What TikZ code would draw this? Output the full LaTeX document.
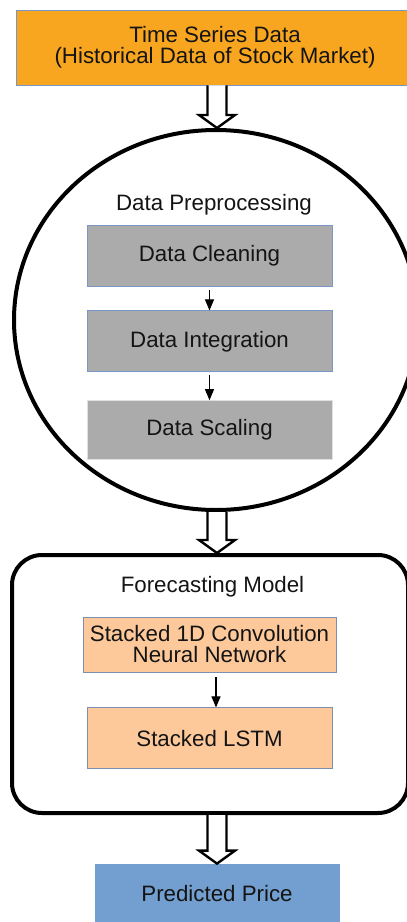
\documentclass[tikz,border=0pt]{standalone}
\usepackage{fontspec}
\setmainfont{Liberation Sans}
\usetikzlibrary{arrows.meta}
\usetikzlibrary{positioning, shapes.geometric, calc}

\definecolor{srcorange}{RGB}{248,166,32}
\definecolor{stepgray}{RGB}{171,171,171}
\definecolor{modelpeach}{RGB}{253,201,155}
\definecolor{outblue}{RGB}{114,159,207}
\definecolor{edgeblue}{RGB}{120,150,200}

% big open arrow between the stages, drawn on the vertical through (axis)
\newcommand{\stagearrow}[2]{%
  \draw[stagearr] let \p1=(#1 -| axis), \p2=(#2 -| axis) in
    (\x1-9.5pt,\y1) -- (\x1-9.5pt,\y2+13pt) -- (\x1-18pt,\y2+13pt) -- (\x2,\y2)
    -- (\x1+18pt,\y2+13pt) -- (\x1+9.5pt,\y2+13pt) -- (\x1+9.5pt,\y1);}

\begin{document}
\begin{tikzpicture}[
  x=1pt, y=1pt, semithick,
  every node/.style={font=\fontsize{22.3}{21}\selectfont, text=black!92},
  box/.style={rectangle, draw=edgeblue, line width=0.8pt, align=center,
    minimum width=245pt, minimum height=61pt, inner sep=2pt},
  stage/.style={draw=black, line width=4pt, inner sep=0pt},
  title/.style={inner sep=0pt, anchor=base},
  flow/.style={-{Triangle[length=11pt,width=9pt]}, line width=1.1pt},
  stagearr/.style={line width=2.4pt, fill=white, line join=miter}
]
\useasboundingbox (0,0) rectangle (407,-922);
\coordinate (axis) at (217,0);

% --- Input ---
\node[box, fill=srcorange, minimum width=398pt, minimum height=75pt] (src) at (215,-47.5)
  {Time Series Data\\(Historical Data of Stock Market)};

% --- Preprocessing stage ---
\node[stage, ellipse, minimum width=404pt, minimum height=380pt] (prep) at (216,-320) {};
\node[box, fill=stepgray] (clean) at (209.5,-255.5) {Data Cleaning};
\node[box, fill=stepgray, below=24pt of clean] (integ) {Data Integration};
\node[box, fill=stepgray, draw=black!12, below=28pt of integ, minimum height=59pt] (scale) {Data Scaling};
\node[title, above=14.5pt of clean, anchor=base, xshift=4.5pt] (preptitle) {Data Preprocessing};

% --- Forecasting stage ---
\node[stage, rectangle, rounded corners=30pt, minimum width=396pt, minimum height=258pt] (model) at (210,-684) {};
\node[box, fill=modelpeach, draw=edgeblue!70!gray, minimum width=253pt, minimum height=55pt] (conv) at (209.5,-644.5)
  {Stacked 1D Convolution\\Neural Network};
\node[box, fill=modelpeach, draw=edgeblue!70!gray, below=35pt of conv] (lstm) {Stacked LSTM};
\node[title, above=24pt of conv, anchor=base, xshift=3pt] (modeltitle) {Forecasting Model};

% --- Output ---
\node[box, fill=outblue, draw=outblue, minimum width=244pt, minimum height=60pt] (price) at (217,-894) {Predicted Price};

% --- Arrows ---
\draw[flow, shorten <=4pt] (clean) -- (integ);
\draw[flow, shorten <=3pt] (integ) -- (scale);
\draw[flow, shorten <=5pt] ([xshift=6.5pt]conv.south) -- ([xshift=6.5pt]lstm.north);

\stagearrow{src.south}{prep.north}
\stagearrow{prep.south}{model.north}
\stagearrow{model.south}{price.north}

\end{tikzpicture}
\end{document}
